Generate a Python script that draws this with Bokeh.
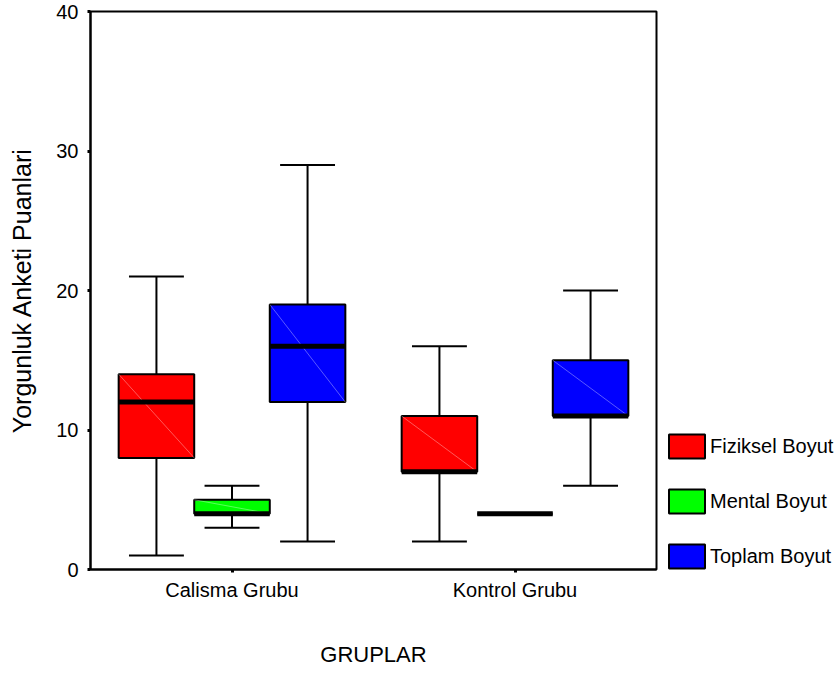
from bokeh.plotting import figure
from bokeh.models import ColumnDataSource, FactorRange, Range1d, FixedTicker, Legend, LegendItem
from bokeh.transform import dodge
from bokeh.embed import file_html
from bokeh.resources import INLINE

groups = ["Calisma Grubu", "Kontrol Grubu"]
series = ["Fiziksel Boyut", "Mental Boyut", "Toplam Boyut"]
colors = ["#FF0000", "#00FF00", "#0000FF"]

fiziksel_low = [1, 2]
fiziksel_q1 = [8, 7]
fiziksel_med = [12, 7]
fiziksel_q3 = [14, 11]
fiziksel_high = [21, 16]

mental_low = [3, 4]
mental_q1 = [4, 4]
mental_med = [4, 4]
mental_q3 = [5, 4]
mental_high = [6, 4]

toplam_low = [2, 6]
toplam_q1 = [12, 11]
toplam_med = [16, 11]
toplam_q3 = [19, 15]
toplam_high = [29, 20]

y_ticks = [0, 10, 20, 30, 40]

data = [
    (fiziksel_low, fiziksel_q1, fiziksel_med, fiziksel_q3, fiziksel_high),
    (mental_low, mental_q1, mental_med, mental_q3, mental_high),
    (toplam_low, toplam_q1, toplam_med, toplam_q3, toplam_high),
]

FONT = "Liberation Sans"
BOX_W = 0.267
CAP_W = 0.194
offsets = [-BOX_W, 0.0, BOX_W]

p = figure(x_range=FactorRange(*groups), y_range=Range1d(0, 40),
           frame_width=566, frame_height=558,
           output_backend="svg", toolbar_location=None,
           min_border_left=90, min_border_top=11, min_border_right=10, min_border_bottom=95)

p.xgrid.visible = False
p.ygrid.visible = False
p.outline_line_color = "black"
p.outline_line_width = 2
p.background_fill_color = "white"
p.border_fill_color = "white"

legend_items = []
for name, col, off, (lo, q1, med, q3, hi) in zip(series, colors, offsets, data):
    src = ColumnDataSource(dict(group=groups, low=lo, q1=q1, med=med, q3=q3, high=hi))
    xc = dodge("group", off, range=p.x_range)
    # whiskers
    p.segment(x0=xc, y0="q3", x1=xc, y1="high", source=src, line_color="black", line_width=2)
    p.segment(x0=xc, y0="low", x1=xc, y1="q1", source=src, line_color="black", line_width=2)
    # caps
    p.segment(x0=dodge("group", off - CAP_W / 2, range=p.x_range), y0="high",
              x1=dodge("group", off + CAP_W / 2, range=p.x_range), y1="high",
              source=src, line_color="black", line_width=2)
    p.segment(x0=dodge("group", off - CAP_W / 2, range=p.x_range), y0="low",
              x1=dodge("group", off + CAP_W / 2, range=p.x_range), y1="low",
              source=src, line_color="black", line_width=2)
    # box
    r = p.vbar(x=xc, width=BOX_W, top="q3", bottom="q1", source=src,
               fill_color=col, line_color="black", line_width=2)
    # faint diagonal
    p.segment(x0=dodge("group", off - BOX_W / 2, range=p.x_range), y0="q3",
              x1=dodge("group", off + BOX_W / 2, range=p.x_range), y1="q1",
              source=src, line_color="white", line_alpha=0.35, line_width=1)
    # median
    p.segment(x0=dodge("group", off - BOX_W / 2, range=p.x_range), y0="med",
              x1=dodge("group", off + BOX_W / 2, range=p.x_range), y1="med",
              source=src, line_color="black", line_width=5, line_cap="butt")
    legend_items.append(LegendItem(label=name, renderers=[r]))

# axes
p.yaxis.ticker = FixedTicker(ticks=y_ticks)
p.yaxis.minor_tick_line_color = None
for ax in (p.xaxis[0], p.yaxis[0]):
    ax.axis_line_width = 2
    ax.axis_line_color = "black"
    ax.major_tick_line_width = 3
    ax.major_tick_line_color = "black"
    ax.major_tick_out = 3
    ax.major_tick_in = 0
    ax.major_label_text_font = FONT
    ax.major_label_text_color = "black"
    ax.axis_label_text_font = FONT
    ax.axis_label_text_font_style = "normal"
    ax.axis_label_text_color = "black"

p.yaxis.axis_label = "Yorgunluk Anketi Puanlari"
p.yaxis.axis_label_text_font_size = "25px"
p.yaxis.major_label_text_font_size = "20px"
p.yaxis.major_label_standoff = 9
p.yaxis.axis_label_standoff = 17

p.xaxis.axis_label = "GRUPLAR"
p.xaxis.axis_label_text_font_size = "22px"
p.xaxis.major_label_text_font_size = "20px"
p.xaxis.major_label_standoff = 6
p.xaxis.axis_label_standoff = 38

legend = Legend(items=legend_items, location=(8, -2), orientation="vertical",
                glyph_width=45, glyph_height=30, label_height=30, spacing=25,
                label_standoff=1, padding=0, margin=0,
                border_line_color=None, background_fill_alpha=0,
                label_text_font=FONT, label_text_font_size="20px", label_text_color="black")
p.add_layout(legend, "right")

open("out.html", "w").write(file_html(p, INLINE))
